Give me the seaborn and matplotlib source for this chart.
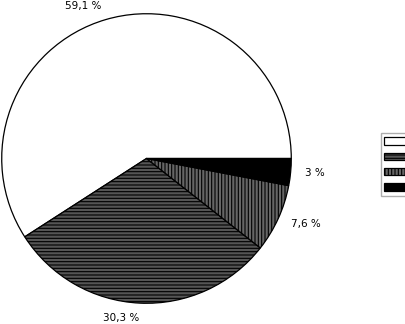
import matplotlib
matplotlib.use("Agg")
import matplotlib.pyplot as plt
import seaborn as sns

# slice shares (percent), counterclockwise from 3 o'clock
shares = [59.1, 30.3, 7.6, 3.0]
labels = ["59,1 %", "30,3 %", "7,6 %", "3 %"]
faces = ["white", "#555555", "#666666", "black"]
hatches = ["", "-----", "|||||", ""]

sns.set_style("white")
plt.rcParams['font.family'] = ['DejaVu Sans']
plt.rcParams['hatch.linewidth'] = 0.8

fig = plt.figure(figsize=(4.05, 3.24), dpi=100)
ax = fig.add_axes([1 / 405, 20 / 324, 291 / 405, 291 / 324])

wedges, texts = ax.pie(shares, labels=labels, colors=faces, startangle=0,
                       counterclock=True, labeldistance=1.1,
                       wedgeprops=dict(edgecolor="black", linewidth=0.9),
                       textprops=dict(fontsize=7.5, color="black"))
for w, h in zip(wedges, hatches):
    w.set_hatch(h)
for t in texts:
    t.set_clip_on(False)
ax.set_xlim(-1.005, 1.005)
ax.set_ylim(-1.005, 1.005)
ax.set_aspect("equal")
ax.axis("off")

leg = fig.legend(wedges, ["", "", "", ""], loc="upper left",
                 bbox_to_anchor=(376 / 405, 1 - 128 / 324),
                 frameon=True, fancybox=False, edgecolor="#999999",
                 handlelength=2.2, handleheight=0.8, labelspacing=0.55,
                 borderpad=0.35, fontsize=7)

fig.savefig("out.png", dpi=100)
